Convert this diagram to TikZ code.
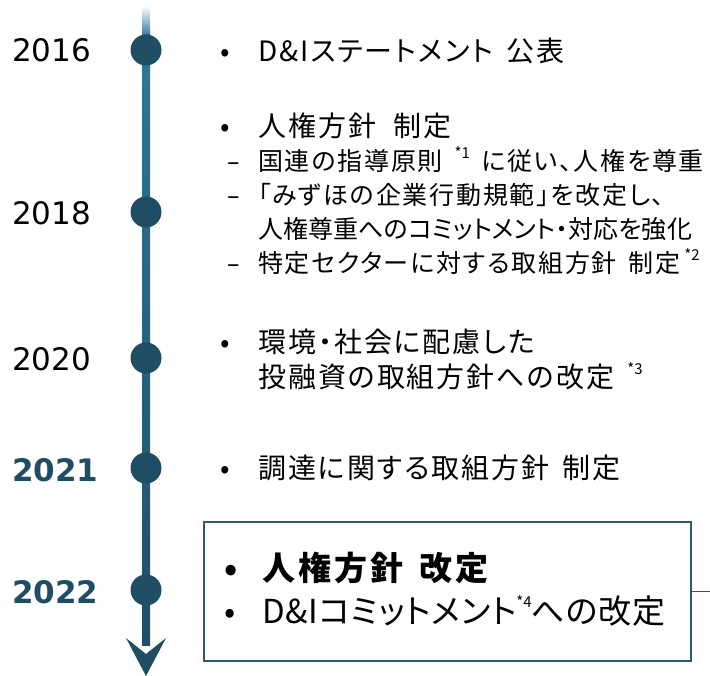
\documentclass[tikz,border=0pt]{standalone}
\usepackage{fontspec}
\setmainfont{Noto Sans CJK JP}[RawFeature=+palt, LetterSpace=7, WordSpace=1.6]
\newfontfamily\yrfont{DejaVu Sans}
\definecolor{tl}{HTML}{1F4E64}
\definecolor{tlA}{HTML}{2F7799}
\definecolor{boxc}{HTML}{2C5A72}
\newcommand\szMain{\fontsize{28}{32}\selectfont}
\newcommand\szSub{\fontsize{25}{28}\selectfont}
\newcommand\szBox{\fontsize{33}{36}\selectfont}
\newcommand\szYear{\fontsize{31}{36}\selectfont\yrfont}
\newcommand\noteup[1]{\raisebox{0.48em}{\fontsize{15}{15}\selectfont\addfontfeature{LetterSpace=0}*#1}}
\newcommand\bul{\makebox[38pt][l]{•}}
\newcommand\dsh{\makebox[38pt][l]{\hspace{7pt}\yrfont –}}
\tikzset{
  dot/.style={circle, fill=tl, minimum size=31pt, inner sep=0pt},
  year/.style={anchor=base west, inner sep=0pt, font=\szYear},
  yearhi/.style={year, text=tl, font=\szYear\bfseries},
  main/.style={anchor=base west, inner sep=0pt, font=\szMain},
  sub/.style={anchor=base west, inner sep=0pt, font=\szSub},
  boxt/.style={anchor=base west, inner sep=0pt, font=\szBox},
}
\begin{document}
\begin{tikzpicture}[x=1pt,y=-1pt]
\useasboundingbox (0,0) rectangle (710,676);
% timeline
\shade[top color=white, bottom color=tlA] (142,6) rectangle (150,36);
\shade[top color=tlA, bottom color=tl] (142,35) rectangle (150,645);
\coordinate (tip) at (146,676);
\fill[tl] (tip) -- (126,638) -- (146,654) -- (166,638) -- cycle;
% dots
\node[dot] (c16) at (146,50) {};
\node[dot] (c18) at (146,212) {};
\node[dot] (c20) at (146,358) {};
\node[dot] (c21) at (146,468) {};
\node[dot] (c22) at (146,590) {};
% years
\node[year] (y16) at (12,62) {2016};
\node[year] (y18) at (12,225) {2018};
\node[year] (y20) at (12,371) {2020};
\node[yearhi] (y21) at (12,481) {2021};
\node[yearhi] (y22) at (12,603) {2022};
% 2016
\node[main] (t16) at (220,62) {\bul D\&Iステートメント 公表};
% 2018
\node[main] (t18a) at (220,137) {\bul 人権方針 \,制定};
\node[sub] (t18b) at (220,171) {\dsh 国連の指導原則 \noteup{1} に従い、人権を尊重};
\node[sub] (t18c) at (220,205) {\dsh 「みずほの企業行動規範」を改定し、};
\node[sub] (t18d) at (258,239) {\addfontfeature{LetterSpace=0.5}人権尊重へのコミットメント・対応を強化};
\node[sub] (t18e) at (220,273) {\dsh 特定セクターに対する取組方針 制定\,\noteup{2}};
% 2020
\node[main] (t20a) at (220,353) {\bul 環境・社会に配慮した};
\node[main] (t20b) at (258,388) {投融資の取組方針への改定 \noteup{3}};
% 2021
\node[main] (t21) at (220,478) {\bul 調達に関する取組方針 制定};
% 2022 box
\node[draw=boxc, line width=1.5pt, minimum width=487pt, minimum height=139pt, anchor=north west, inner sep=0pt] (box) at (203,521) {};
\coordinate (edge) at (710,0);
\draw[boxc, line width=1.2pt] (box.east) -- (box.east -| edge);
\node[boxt, font=\szBox\bfseries] (t22a) at (224,580) {\makebox[38pt][l]{•}\addfontfeature{LetterSpace=9}人権方針 改定};
\node[boxt] (t22b) at (224,623) {\makebox[38pt][l]{•}\addfontfeature{LetterSpace=2}D\&Iコミットメント\noteup{4}への改定};
\end{tikzpicture}
\end{document}
